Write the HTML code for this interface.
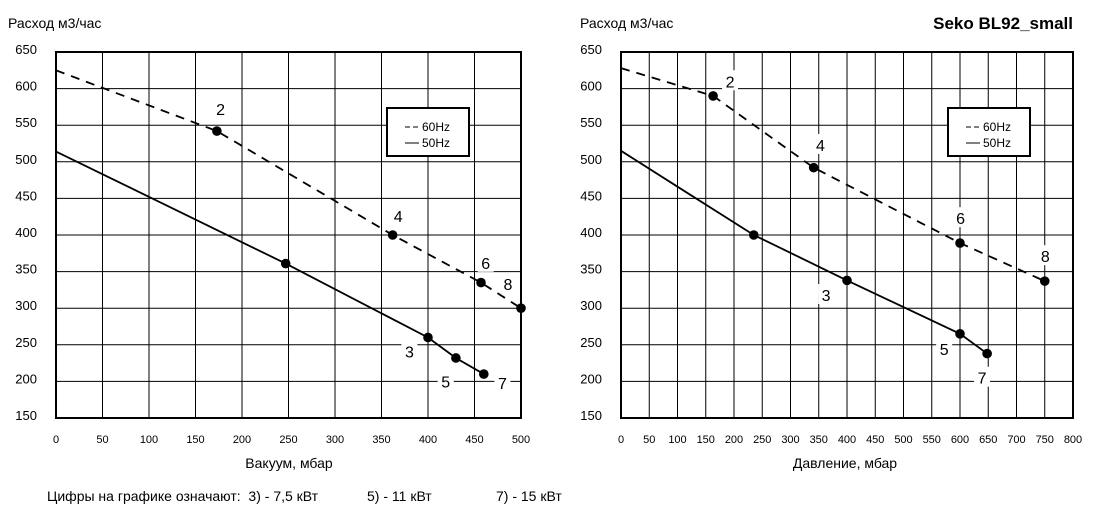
<!DOCTYPE html>
<html><head><meta charset="utf-8">
<style>
body{margin:0;background:#fff;}
svg{display:block;font-family:"Liberation Sans",sans-serif;}
</style></head>
<body>
<svg id="c" width="1101" height="517" viewBox="0 0 1101 517" xmlns="http://www.w3.org/2000/svg">
<text x="8" y="28" font-size="14">Расход м3/час</text>
<text x="580" y="28" font-size="14">Расход м3/час</text>
<text x="1073" y="29" font-size="17" font-weight="bold" text-anchor="end">Seko BL92_small</text>
<text x="289" y="468" font-size="14" text-anchor="middle">Вакуум, мбар</text>
<text x="845" y="468" font-size="14" text-anchor="middle">Давление, мбар</text>
<text x="47" y="501" font-size="14" xml:space="preserve">Цифры на графике означают:  3) - 7,5 кВт</text>
<text x="367" y="501" font-size="14">5) - 11 кВт</text>
<text x="496" y="501" font-size="14">7) - 15 кВт</text>
</svg>
<script>
const yTicks=[150,200,250,300,350,400,450,500,550,600,650];
const leftXTicks=[0,50,100,150,200,250,300,350,400,450,500];
const rightXTicks=[0,50,100,150,200,250,300,350,400,450,500,550,600,650,700,750,800];
// left chart (vacuum)
const left60x=[0,173,362,457,500];
const left60y=[625,542,400,335,300];
const left60dots=[false,true,true,true,true];
const left50x=[0,247,400,430,460];
const left50y=[514,361,260,232,210];
const left50dots=[false,true,true,true,true];
const leftLabels=["2","4","6","8","3","5","7"];
const leftLabelX=[177,368,462,486,380,419,480];
const leftLabelY=[572,426,362,333,241,200,198];
// right chart (pressure)
const right60x=[0,163,341,600,750];
const right60y=[628,590,492,389,337];
const right60dots=[false,true,true,true,true];
const right50x=[0,100,235,400,600,648];
const right50y=[515,466,400,338,265,238];
const right50dots=[false,false,true,true,true,true];
const rightLabels=["2","4","6","8","3","5","7"];
const rightLabelX=[193,353,601,751,363,572,639];
const rightLabelY=[610,523,423,371,318,244,205];

const NS="http://www.w3.org/2000/svg";
const svg=document.getElementById('c');
function mk(tag,attrs,parent){const e=document.createElementNS(NS,tag);for(const k in attrs)e.setAttribute(k,attrs[k]);(parent||svg).appendChild(e);return e;}

function drawChart(prefix,x0,x1,xmax,xTicks,s60x,s60y,d60,s50x,s50y,d50,labs,lx,ly,legX){
  const y0=418,y1=52;
  const sx=v=>x0+(v/xmax)*(x1-x0);
  const sy=v=>y0-(v-150)/500*(y0-y1);
  const g=mk('g',{});
  
  
  xTicks.forEach(t=>{
    const l=mk('line',{x1:sx(t),x2:sx(t),y1:y1,y2:y0,stroke:'#000','stroke-width':1},g);
    
    
    const tx=mk('text',{x:sx(t),y:443,'font-size':11,'text-anchor':'middle'},g);
    tx.textContent=t;
    
    
  });
  yTicks.forEach(t=>{
    const l=mk('line',{x1:x0,x2:x1,y1:sy(t),y2:sy(t),stroke:'#000','stroke-width':1},g);
    
    
    const tx=mk('text',{x:x0-19,y:sy(t)+2,'font-size':13,'text-anchor':'end'},g);
    tx.textContent=t;
    
    
  });
  const fr=mk('rect',{x:x0,y:y1,width:x1-x0,height:y0-y1,fill:'none',stroke:'#000','stroke-width':2},g);
  
  
  labs.forEach((t,i)=>{
    const bx=sx(lx[i]),by=sy(ly[i]);
    const r=mk('rect',{x:bx-8,y:by-11,width:16,height:20,fill:'#fff'},g);
    
    
    const tx=mk('text',{x:bx,y:by+6,'font-size':16,'text-anchor':'middle'},g);
    tx.textContent=t;
    
    
  });
  function series(xs,ys,dots,dash,name){
    const p=mk('polyline',{points:xs.map((v,i)=>sx(v)+','+sy(ys[i])).join(' '),fill:'none',stroke:'#000','stroke-width':1.8},g);
    if(dash)p.setAttribute('stroke-dasharray','9 7');
    
    
    xs.forEach((v,i)=>{ if(!dots[i])return;
      const c=mk('circle',{cx:sx(v),cy:sy(ys[i]),r:4.8,fill:'#000'},g);
      
      
    });
  }
  series(s60x,s60y,d60,true,'60hz');
  series(s50x,s50y,d50,false,'50hz');
  const lg=mk('g',{},g);
  
  
  mk('rect',{x:legX,y:108,width:82,height:48,fill:'#fff',stroke:'#000','stroke-width':2},lg);
  mk('line',{x1:legX+18,x2:legX+32,y1:127,y2:127,stroke:'#000','stroke-width':1,'stroke-dasharray':'5 3'},lg);
  mk('line',{x1:legX+18,x2:legX+32,y1:143,y2:143,stroke:'#000','stroke-width':1},lg);
  const t1=mk('text',{x:legX+35,y:131,'font-size':12},lg);t1.textContent='60Hz';
  
  
  const t2=mk('text',{x:legX+35,y:147,'font-size':12},lg);t2.textContent='50Hz';
  
  
}
drawChart('left',56,521,500,leftXTicks,left60x,left60y,left60dots,left50x,left50y,left50dots,leftLabels,leftLabelX,leftLabelY,387);
drawChart('right',621,1073,800,rightXTicks,right60x,right60y,right60dots,right50x,right50y,right50dots,rightLabels,rightLabelX,rightLabelY,948);
</script>
</body></html>
